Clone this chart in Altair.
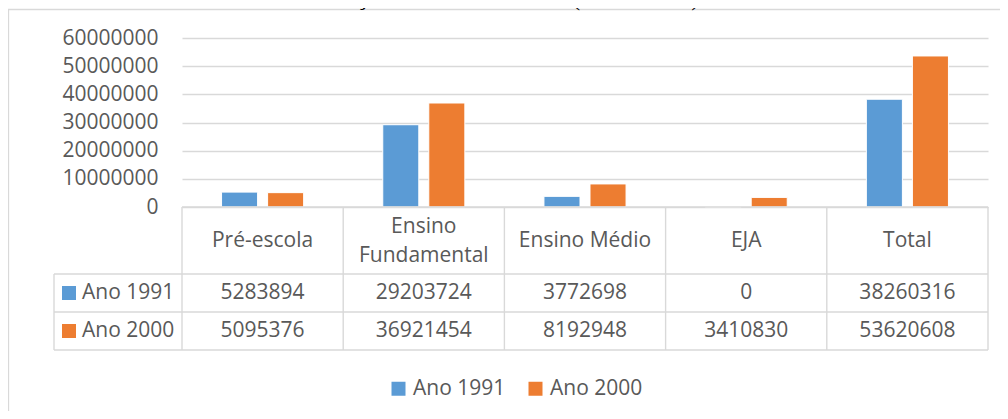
import altair as alt
import pandas as pd

# ---- data ----
titulo = "Gráfico 2 – Matrículas na educação básica no Brasil (1991/2000)"
categorias = ["Pré-escola", "Ensino Fundamental", "Ensino Médio", "EJA", "Total"]
rotulos_cabecalho = ["Pré-escola", "Ensino\nFundamental", "Ensino Médio", "EJA", "Total"]
series = ["Ano 1991", "Ano 2000"]
ano_1991 = [5283894, 29203724, 3772698, 0, 38260316]
ano_2000 = [5095376, 36921454, 8192948, 3410830, 53620608]
y_ticks = [0, 10000000, 20000000, 30000000, 40000000, 50000000, 60000000]
cores = ["#5B9BD5", "#ED7D31"]

df_long = pd.DataFrame(
    [{"categoria": c, "serie": series[0], "valor": v} for c, v in zip(categorias, ano_1991)]
    + [{"categoria": c, "serie": series[1], "valor": v} for c, v in zip(categorias, ano_2000)]
)
df_cat = pd.DataFrame({"categoria": categorias, "cabecalho": rotulos_cabecalho})
df_one = pd.DataFrame({"k": [0]})

W, H = 806, 169
FONT = "Open Sans"
TXT = "#595959"
LINE = "#d9d9d9"
LW = 1.4

xscale = alt.Scale(domain=categorias, paddingInner=0, paddingOuter=0)
X = alt.X("categoria:N", sort=categorias, scale=xscale, axis=None)

frame = alt.Chart(df_one).mark_rect(filled=False, stroke=LINE, strokeWidth=1.3).encode(
    x=alt.value(-173.5), x2=alt.value(900), y=alt.value(-28.5), y2=alt.value(600)
)

title = alt.Chart(df_one).mark_text(
    text=titulo, font="Liberation Serif", fontSize=26, color="black",
    align="left", baseline="alphabetic"
).encode(x=alt.value(-160), y=alt.value(-33))

bars = alt.Chart(df_long).mark_bar(stroke="white", strokeWidth=1).encode(
    x=X,
    xOffset=alt.XOffset("serie:N", sort=series,
                        scale=alt.Scale(domain=series, paddingInner=0.217, paddingOuter=0.859)),
    y=alt.Y("valor:Q", scale=alt.Scale(domain=[0, 60000000]),
            axis=alt.Axis(values=y_ticks, format="d", title=None, labelFontSize=21,
                          labelColor=TXT, labelFont=FONT, labelPadding=24, ticks=False,
                          domain=False, grid=True, gridColor=LINE, gridWidth=LW)),
    color=alt.Color("serie:N", sort=series, scale=alt.Scale(domain=series, range=cores),
                    legend=alt.Legend(orient="none", legendX=206, legendY=340,
                                      direction="horizontal", title=None,
                                      symbolType="square", symbolSize=196,
                                      symbolStrokeWidth=0, labelFontSize=21,
                                      labelFont=FONT, labelColor=TXT, labelOffset=4,
                                      columnPadding=19, padding=0)),
)

vlines = alt.Chart(df_cat).mark_rule(color=LINE, strokeWidth=LW).encode(
    x=alt.X("categoria:N", sort=categorias, scale=xscale, axis=None, bandPosition=0),
    y=alt.value(H), y2=alt.value(312),
)


def rule(x, x2, y, y2):
    return alt.Chart(df_one).mark_rule(color=LINE, strokeWidth=LW).encode(
        x=alt.value(x), x2=alt.value(x2), y=alt.value(y), y2=alt.value(y2)
    )


lines = [
    rule(W, W, H, 312),
    rule(-128, -128, 236, 312),
    rule(0, W, H, H),
    rule(-128, W, 236, 236),
    rule(-128, W, 274, 274),
    rule(-128, W, 312, 312),
]

header_one = alt.Chart(df_cat).transform_filter(
    "indexof(datum.cabecalho, '\\n') < 0"
).mark_text(font=FONT, fontSize=21, color=TXT, baseline="middle").encode(
    x=X, y=alt.value(203), text="cabecalho:N"
)
header_two = alt.Chart(df_cat).transform_filter(
    "indexof(datum.cabecalho, '\\n') >= 0"
).mark_text(
    font=FONT, fontSize=21, color=TXT, lineBreak="\n", lineHeight=29, baseline="middle"
).encode(x=X, y=alt.value(188.5), text="cabecalho:N")

row_y = [255, 293]
row_layers = []
for s, yy, cor in zip(series, row_y, cores):
    row_layers.append(
        alt.Chart(df_long).transform_filter(alt.datum.serie == s).mark_text(
            font=FONT, fontSize=21, color=TXT, baseline="middle"
        ).encode(x=X, y=alt.value(yy), text=alt.Text("valor:Q", format="d"))
    )
    row_layers.append(
        alt.Chart(df_one).mark_square(size=196, color=cor, opacity=1).encode(
            x=alt.value(-113), y=alt.value(yy)
        )
    )
    row_layers.append(
        alt.Chart(df_one).mark_text(
            text=s, font=FONT, fontSize=21, color=TXT, align="left", baseline="middle"
        ).encode(x=alt.value(-100), y=alt.value(yy))
    )

chart = alt.layer(frame, title, bars, vlines, *lines, header_one, header_two,
                  *row_layers).properties(
    width=W, height=H,
    autosize=alt.AutoSizeParams(type="none"),
    padding={"left": 174, "top": 30, "right": 12, "bottom": 204},
    background="white",
).configure_view(stroke=None)

chart.save("out.html", embed_options={"renderer": "svg", "actions": False})
